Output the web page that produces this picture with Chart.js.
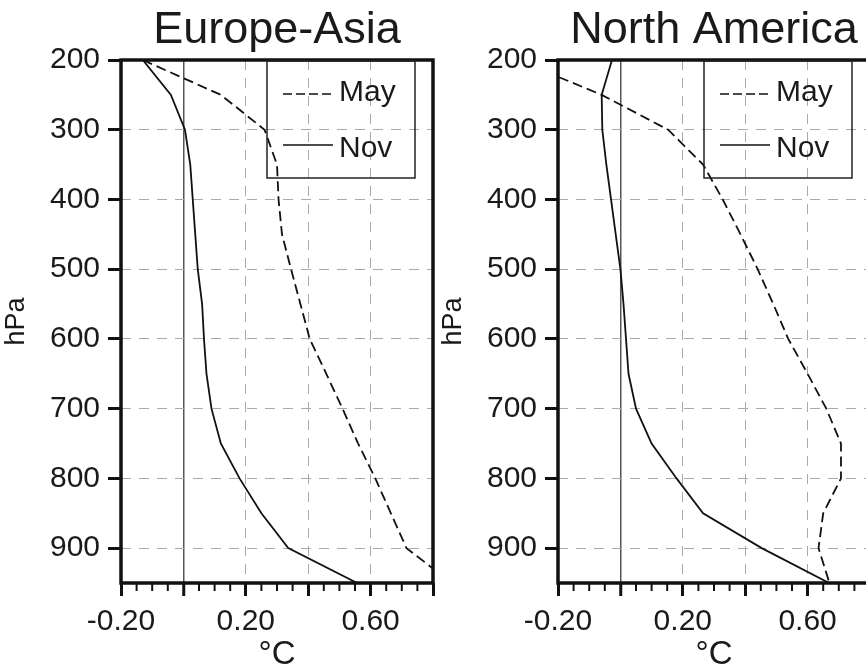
<!DOCTYPE html>
<html><head><meta charset="utf-8">
<script src="https://cdn.jsdelivr.net/npm/chart.js@4.4.1/dist/chart.umd.min.js"></script>
<style>
html,body{margin:0;padding:0;background:#fff;overflow:hidden;width:866px;height:668px;}
#wrap{position:relative;width:866px;height:668px;overflow:hidden;background:#fff;}
canvas{position:absolute;top:0;}
#c1{left:0;} #c2{left:437px;}
</style></head><body>
<div id="wrap"><canvas id="c1" width="445" height="668"></canvas><canvas id="c2" width="445" height="668"></canvas></div>
<script>
// ---- data ----
const pressureLevels = [200,250,300,350,400,450,500,550,600,650,700,750,800,850,900,950];
const europeAsiaMay = [-0.13,0.12,0.26,0.30,0.305,0.316,0.345,0.375,0.405,0.458,0.51,0.56,0.615,0.665,0.715,0.86];
const europeAsiaNov = [-0.13,-0.04,0.005,0.022,0.03,0.038,0.046,0.06,0.066,0.074,0.09,0.12,0.18,0.25,0.336,0.557];
const northAmericaMay = [-0.33,-0.06,0.153,0.265,0.328,0.385,0.44,0.49,0.538,0.60,0.66,0.707,0.707,0.65,0.635,0.67];
const northAmericaNov = [-0.027,-0.06,-0.058,-0.045,-0.03,-0.015,0.0,0.01,0.018,0.026,0.05,0.10,0.18,0.265,0.453,0.669];
const panelTitles = ['Europe-Asia','North America'];
const seriesLabels = ['May','Nov'];
const yTickValues = [200,300,400,500,600,700,800,900];
const xMajorTicks = [-0.2,0,0.2,0.4,0.6,0.8];
const xLabelledTicks = [-0.2,0.2,0.6];
const xMinorTicks = [-0.15,-0.1,-0.05,0.05,0.1,0.15,0.25,0.3,0.35,0.45,0.5,0.55,0.65,0.7,0.75];
const xAxisTitle = '°C';
const yAxisTitle = 'hPa';

const FONT = "'Liberation Sans', Arial, sans-serif";
const near = (a,b) => Math.abs(a-b) < 1e-6;

const panelPlugin = {
  id: 'panelDecor',
  afterDraw(chart, args, opts) {
    const ctx = chart.ctx, a = chart.chartArea;
    const xs = chart.scales.x;
    ctx.save();
    // minor ticks
    ctx.strokeStyle = '#111'; ctx.lineWidth = 2; ctx.setLineDash([]);
    xMinorTicks.forEach(v => {
      const px = xs.getPixelForValue(v);
      ctx.beginPath(); ctx.moveTo(px, a.bottom); ctx.lineTo(px, a.bottom + 8); ctx.stroke();
    });
    // frame
    ctx.lineWidth = 3.5; ctx.strokeStyle = '#111';
    ctx.strokeRect(a.left, a.top, a.right - a.left, a.bottom - a.top);
    // title
    ctx.fillStyle = '#1a1a1a';
    ctx.font = '45px ' + FONT;
    ctx.textAlign = 'center'; ctx.textBaseline = 'alphabetic';
    ctx.fillText(opts.title, (a.left + a.right) / 2, 43);
    // legend
    const bx = a.left + 146, by = a.top + 1, bw = 148, bh = 117;
    ctx.lineWidth = 1.5; ctx.strokeStyle = '#222';
    ctx.strokeRect(bx, by, bw, bh);
    ctx.font = '30px ' + FONT; ctx.textAlign = 'left';
    chart.data.datasets.forEach((ds, i) => {
      const ly = a.top + (i === 0 ? 34 : 85);
      const ty = a.top + (i === 0 ? 41 : 97);
      ctx.beginPath(); ctx.lineWidth = 1.5; ctx.strokeStyle = '#111';
      ctx.setLineDash(i === 0 ? [9,4] : []);
      ctx.moveTo(a.left + 162, ly); ctx.lineTo(a.left + 212, ly); ctx.stroke();
      ctx.setLineDash([]);
      ctx.fillText(ds.label, a.left + 218, ty);
    });
    ctx.restore();
  }
};

function makeChart(id, title, may, nov) {
  const toPts = arr => arr.map((v, i) => ({x: v, y: pressureLevels[i]}));
  return new Chart(document.getElementById(id), {
    type: 'line',
    data: {
      datasets: [
        {label: seriesLabels[0], data: toPts(may), borderColor: '#111', borderWidth: 1.8, borderDash: [10,5], pointRadius: 0, fill: false, tension: 0, clip: 0},
        {label: seriesLabels[1], data: toPts(nov), borderColor: '#111', borderWidth: 1.8, pointRadius: 0, fill: false, tension: 0, clip: 0}
      ]
    },
    options: {
      responsive: false, animation: false, devicePixelRatio: 1,
      layout: {padding: {top: 60, right: 12, left: 0, bottom: 0}},
      plugins: {legend: {display: false}, tooltip: {enabled: false}, panelDecor: {title: title}},
      scales: {
        x: {
          type: 'linear', min: -0.2, max: 0.8, position: 'bottom',
          afterBuildTicks: s => { s.ticks = xMajorTicks.map(v => ({value: v})); },
          afterFit: s => { s.height = 85; },
          border: {display: false, dash: c => (c.tick && near(c.tick.value, 0)) ? [] : [10,8]},
          grid: {
            color: c => near(c.tick.value, 0) ? '#555' : (xMajorTicks.slice(2,5).some(v => near(v, c.tick.value)) ? '#aaa' : 'rgba(0,0,0,0)'),
            lineWidth: c => near(c.tick.value, 0) ? 1.5 : 1,
            tickColor: '#111', tickWidth: 3, tickLength: 13, tickBorderDash: []
          },
          ticks: {
            autoSkip: false, maxRotation: 0, padding: 8, color: '#1a1a1a',
            font: {family: FONT, size: 30},
            callback: v => xLabelledTicks.some(t => near(t, v)) ? Number(v).toFixed(2) : ''
          },
          title: {display: true, text: xAxisTitle, color: '#1a1a1a', font: {family: FONT, size: 33}, padding: {top: 0, bottom: -7}}
        },
        y: {
          type: 'linear', min: 200, max: 950, reverse: true, position: 'left',
          afterBuildTicks: s => { s.ticks = yTickValues.map(v => ({value: v})); },
          afterFit: s => { s.width = 121; },
          border: {display: false, dash: [10,8]},
          grid: {
            color: c => c.tick.value === 200 ? 'rgba(0,0,0,0)' : '#aaa',
            tickColor: '#111', tickWidth: 3, tickLength: 13, tickBorderDash: []
          },
          ticks: {padding: 8, color: '#1a1a1a', font: {family: FONT, size: 30}},
          title: {display: true, text: yAxisTitle, color: '#1a1a1a', font: {family: FONT, size: 27}, padding: {top: 0, bottom: 2}}
        }
      }
    },
    plugins: [panelPlugin]
  });
}

makeChart('c1', panelTitles[0], europeAsiaMay, europeAsiaNov);
makeChart('c2', panelTitles[1], northAmericaMay, northAmericaNov);
</script>
</body></html>
